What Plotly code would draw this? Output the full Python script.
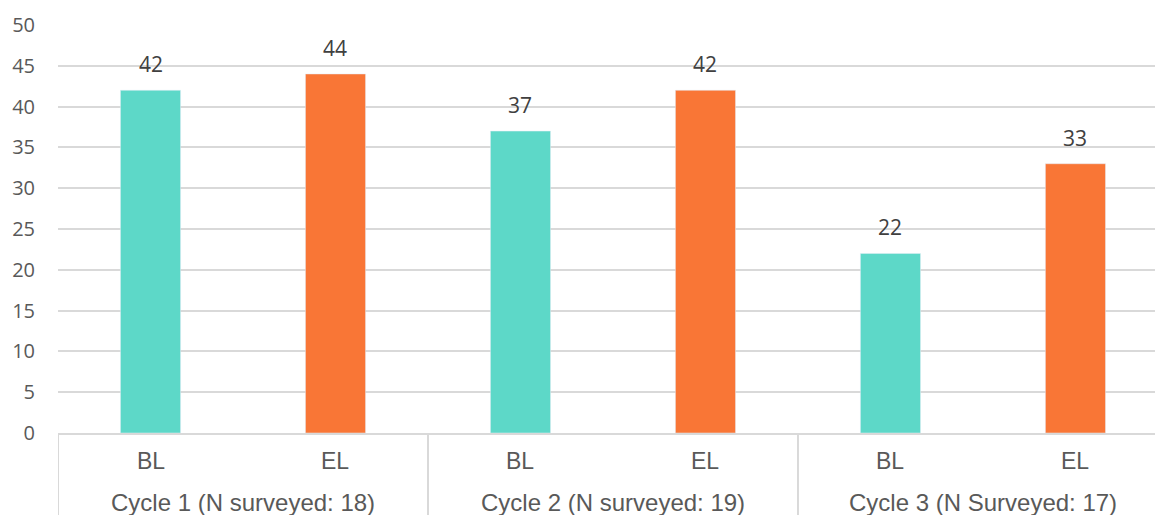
import plotly.graph_objects as go

# Survey results per cycle: baseline (BL) and endline (EL)
cycles = ["Cycle 1 (N surveyed: 18)", "Cycle 2 (N surveyed: 19)", "Cycle 3 (N Surveyed: 17)"]
phases = ["BL", "EL"]
bl_values = [42, 37, 22]
el_values = [44, 42, 33]
y_ticks = [0, 5, 10, 15, 20, 25, 30, 35, 40, 45, 50]

TEAL = "#5DD8C8"
ORANGE = "#F97636"
GRID = "#D9D9D9"
TICK_COLOR = "#595959"
LABEL_COLOR = "#404040"

# Positions on a numeric axis: each cycle holds a BL slot then an EL slot
bl_x = [2 * i for i in range(len(cycles))]
el_x = [2 * i + 1 for i in range(len(cycles))]

fig = go.Figure()
fig.add_trace(go.Bar(x=bl_x, y=bl_values, name="BL", marker_color=TEAL,
                     width=0.325, hoverinfo="y"))
fig.add_trace(go.Bar(x=el_x, y=el_values, name="EL", marker_color=ORANGE,
                     width=0.325, hoverinfo="y"))

annotations = []
# Value labels above each bar
for xs, vals in ((bl_x, bl_values), (el_x, el_values)):
    for x, v in zip(xs, vals):
        annotations.append(dict(x=x, y=v, xref="x", yref="y", text=str(v),
                                showarrow=False, yanchor="bottom", yshift=10,
                                font=dict(family="Open Sans, Segoe UI, sans-serif",
                                          size=21, color=LABEL_COLOR)))

# Two-level category labels under the axis
for i, cyc in enumerate(cycles):
    for j, ph in enumerate(phases):
        annotations.append(dict(x=2 * i + j, y=0, xref="x", yref="y", text=ph,
                                showarrow=False, yanchor="middle", yshift=-28,
                                font=dict(family="Liberation Sans, Arial, sans-serif",
                                          size=23, color=TICK_COLOR)))
    annotations.append(dict(x=2 * i + 0.5, y=0, xref="x", yref="y", text=cyc,
                            showarrow=False, yanchor="middle", yshift=-69,
                            font=dict(family="Liberation Sans, Arial, sans-serif",
                                      size=24, color=TICK_COLOR)))

# Group separators below the axis
shapes = []
for i in range(len(cycles) + 1):
    shapes.append(dict(type="line", xref="x", yref="paper",
                       x0=2 * i - 0.5, x1=2 * i - 0.5, y0=0, y1=-0.25,
                       line=dict(color=GRID, width=2)))

fig.update_layout(
    width=1155, height=515,
    margin=dict(l=58, r=0, t=25, b=82),
    plot_bgcolor="white", paper_bgcolor="white",
    showlegend=False,
    barmode="overlay",
    annotations=annotations,
    shapes=shapes,
    xaxis=dict(range=[-0.5, 5.43], showticklabels=False, showgrid=False,
               zeroline=False, showline=True, linecolor=GRID, linewidth=2,
               ticks=""),
    yaxis=dict(range=[0, 50], tickvals=y_ticks, showgrid=True, gridcolor=GRID,
               gridwidth=2, zeroline=False, showline=False, ticks="",
               ticklabelstandoff=22,
               tickfont=dict(family="Open Sans, Segoe UI, sans-serif", size=20,
                             color=TICK_COLOR)),
)

fig.write_html("out.html")
